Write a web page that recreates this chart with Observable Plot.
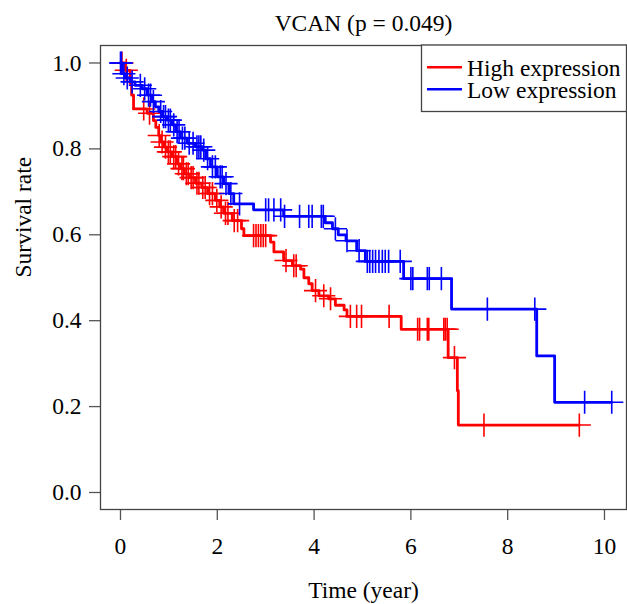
<!DOCTYPE html>
<html><head><meta charset="utf-8">
<script src="https://cdn.jsdelivr.net/npm/d3@7"></script>
<script src="https://cdn.jsdelivr.net/npm/@observablehq/plot@0.6"></script>
<style>body{margin:0;background:#fff}</style>
</head><body><div id="chart"></div>
<script>
const title = "VCAN (p = 0.049)";
const xLabel = "Time (year)";
const yLabel = "Survival rate";
const seriesNames = ["High expression", "Low expression"];
const seriesColors = ["#ff0000", "#0000ff"];
const xTicks = [0, 2, 4, 6, 8, 10];
const yTicks = [0, 0.2, 0.4, 0.6, 0.8, 1.0];

// High expression (red) KM step curve
const highTime = [0, 0.1, 0.2, 0.23, 0.27, 0.55, 0.68, 0.73, 0.79, 0.83, 0.9, 0.97, 1.07, 1.17, 1.24, 1.32, 1.42, 1.55, 1.68, 1.8, 1.96, 2.05, 2.13, 2.31, 2.5, 2.55, 3.1, 3.17, 3.37, 3.55, 3.72, 3.79, 3.89, 3.96, 4.1, 4.3, 4.44, 4.62, 4.68, 5.8, 6.77, 6.96, 6.98, 9.48];
const highSurv = [1.0, 0.983, 0.952, 0.925, 0.893, 0.883, 0.866, 0.85, 0.831, 0.816, 0.804, 0.793, 0.782, 0.765, 0.754, 0.742, 0.733, 0.72, 0.71, 0.696, 0.68, 0.665, 0.65, 0.633, 0.614, 0.598, 0.583, 0.56, 0.54, 0.528, 0.52, 0.5, 0.486, 0.47, 0.458, 0.451, 0.436, 0.425, 0.41, 0.38, 0.314, 0.237, 0.157, 0.157];
// High expression censor marks
const highCensorTime = [0.03, 0.12, 0.48, 0.6, 0.8, 0.86, 0.93, 0.99, 1.03, 1.1, 1.14, 1.2, 1.27, 1.3, 1.36, 1.4, 1.46, 1.5, 1.58, 1.62, 1.7, 1.75, 1.84, 1.9, 1.99, 2.08, 2.17, 2.22, 2.35, 2.42, 2.75, 2.8, 2.85, 2.9, 2.95, 3.0, 3.42, 3.58, 3.63, 4.03, 4.2, 4.34, 4.75, 4.88, 4.98, 5.55, 6.14, 6.18, 6.34, 6.37, 6.68, 6.71, 6.75, 6.9, 7.51, 9.48];
const highCensorSurv = [1.0, 0.983, 0.893, 0.883, 0.831, 0.816, 0.804, 0.793, 0.793, 0.782, 0.782, 0.765, 0.754, 0.754, 0.742, 0.742, 0.733, 0.733, 0.72, 0.72, 0.71, 0.71, 0.696, 0.696, 0.68, 0.665, 0.65, 0.65, 0.633, 0.633, 0.598, 0.598, 0.598, 0.598, 0.598, 0.598, 0.54, 0.528, 0.528, 0.47, 0.458, 0.451, 0.41, 0.41, 0.41, 0.41, 0.38, 0.38, 0.38, 0.38, 0.38, 0.38, 0.38, 0.314, 0.157, 0.157];

// Low expression (blue) KM step curve
const lowTime = [0, 0.03, 0.1, 0.2, 0.3, 0.45, 0.55, 0.65, 0.72, 0.79, 0.86, 0.96, 1.07, 1.14, 1.24, 1.38, 1.55, 1.69, 1.76, 1.86, 2.0, 2.13, 2.24, 2.34, 2.75, 3.37, 4.23, 4.38, 4.5, 4.66, 4.88, 5.06, 5.85, 6.84, 8.6, 8.97, 10.15];
const lowSurv = [1.0, 0.975, 0.965, 0.956, 0.948, 0.94, 0.925, 0.91, 0.898, 0.887, 0.875, 0.867, 0.856, 0.84, 0.825, 0.813, 0.805, 0.797, 0.777, 0.758, 0.735, 0.719, 0.696, 0.672, 0.658, 0.643, 0.628, 0.614, 0.6, 0.586, 0.563, 0.538, 0.498, 0.427, 0.318, 0.21, 0.21];
// Low expression censor marks
const lowCensorTime = [0.0, 0.02, 0.07, 0.14, 0.24, 0.41, 0.5, 0.58, 0.62, 0.68, 0.83, 0.89, 0.93, 0.99, 1.03, 1.1, 1.17, 1.21, 1.28, 1.33, 1.42, 1.5, 1.58, 1.62, 1.66, 1.72, 1.8, 1.9, 1.96, 2.06, 2.1, 2.18, 2.28, 2.46, 3.0, 3.06, 3.17, 3.31, 3.39, 3.7, 3.89, 3.96, 4.15, 4.19, 4.44, 4.68, 4.93, 5.1, 5.15, 5.21, 5.27, 5.34, 5.41, 5.47, 5.54, 5.78, 6.0, 6.04, 6.34, 6.38, 6.63, 7.58, 8.56, 9.59, 10.15];
const lowCensorSurv = [1.0, 1.0, 0.975, 0.965, 0.956, 0.948, 0.94, 0.925, 0.925, 0.91, 0.887, 0.875, 0.875, 0.867, 0.867, 0.856, 0.84, 0.84, 0.825, 0.825, 0.813, 0.813, 0.805, 0.805, 0.805, 0.797, 0.777, 0.758, 0.758, 0.735, 0.735, 0.719, 0.696, 0.672, 0.658, 0.658, 0.658, 0.658, 0.643, 0.643, 0.643, 0.643, 0.643, 0.643, 0.614, 0.586, 0.563, 0.538, 0.538, 0.538, 0.538, 0.538, 0.538, 0.538, 0.538, 0.538, 0.498, 0.498, 0.498, 0.498, 0.498, 0.427, 0.427, 0.21, 0.21];

const toRows = (ts, ss) => ts.map((t, i) => ({t, s: ss[i]}));
const series = [
  {curve: toRows(highTime, highSurv), censor: toRows(highCensorTime, highCensorSurv), color: seriesColors[0]},
  {curve: toRows(lowTime, lowSurv), censor: toRows(lowCensorTime, lowCensorSurv), color: seriesColors[1]}
];

const FONT = "'Liberation Serif', 'Times New Roman', Times, serif";
const FS = 23.5;

const marks = [
  Plot.axisX({ticks: xTicks, tickSize: 11, tickPadding: 17, stroke: "#555", strokeWidth: 1.3, fill: "#000", label: null, fontSize: FS}),
  Plot.axisY({ticks: yTicks, tickSize: 11, tickPadding: 8, tickFormat: d3.format(".1f"), stroke: "#555", strokeWidth: 1.3, fill: "#000", label: null, fontSize: FS}),
  Plot.frame({stroke: "#444", strokeWidth: 1.3})
];
for (const sr of series) {
  marks.push(Plot.line(sr.curve, {x: "t", y: "s", curve: "step-after", stroke: sr.color, strokeWidth: 2.8}));
  marks.push(Plot.dot(sr.censor, {x: "t", y: "s", symbol: "plus", r: 7.5, stroke: sr.color, strokeWidth: 1.6}));
}
marks.push(
  Plot.text([title], {text: d => d, frameAnchor: "top", lineAnchor: "middle", dy: -22.5, fontSize: FS, fill: "#000"}),
  Plot.text([xLabel], {text: d => d, frameAnchor: "bottom", lineAnchor: "middle", dy: 80.5, fontSize: FS, fill: "#000"}),
  Plot.text([yLabel], {text: d => d, frameAnchor: "left", lineAnchor: "middle", dx: -77.5, rotate: -90, fontSize: FS, fill: "#000"})
);

const plot = Plot.plot({
  width: 627, height: 604,
  marginLeft: 100, marginRight: 1, marginTop: 45, marginBottom: 95,
  style: {fontFamily: FONT, fontSize: FS + "px", color: "#000", background: "#fff"},
  x: {domain: [-0.413, 10.455]},
  y: {domain: [-0.0396, 1.0407]},
  marks
});

// Legend box (top-right, like R's legend("topright"))
const svg = d3.select(plot);
const lg = svg.append("g").attr("font-family", FONT).attr("font-size", FS).attr("text-anchor", "start");
lg.append("rect").attr("x", 421.5).attr("y", 45).attr("width", 205).attr("height", 66.5)
  .attr("fill", "#fff").attr("stroke", "#444").attr("stroke-width", 1.3);
seriesNames.forEach((name, i) => {
  const y = 67.3 + i * 22;
  lg.append("line").attr("x1", 427).attr("x2", 462).attr("y1", y).attr("y2", y)
    .attr("stroke", seriesColors[i]).attr("stroke-width", 2.6);
  lg.append("text").attr("x", 467).attr("y", y + 8.3).attr("fill", "#000").attr("text-anchor", "start").text(name);
});

document.getElementById("chart").appendChild(plot);
</script>
</body></html>
